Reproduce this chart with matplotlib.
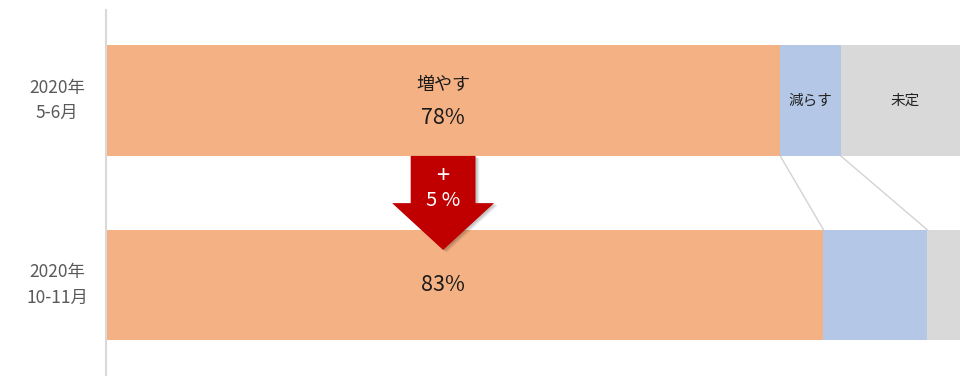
import matplotlib.pyplot as plt
import matplotlib.transforms as mtransforms
from matplotlib.patches import Polygon
import numpy as np

plt.rcParams['font.family'] = ['Noto Sans CJK JP', 'DejaVu Sans']

# 調査時期ごとの回答割合（%）
periods = ['2020年\n5-6月', '2020年\n10-11月']
increase = [78, 83]   # 増やす
decrease = [7, 12]    # 減らす
undecided = [15, 5]   # 未定
seg_names = ['増やす', '減らす', '未定']
diff_sign = '+'
diff_text = '5 %'

colors = ['#F4B183', '#B4C7E7', '#D9D9D9']

fig = plt.figure(figsize=(9.6, 3.76), dpi=100)
ax = fig.add_axes([106 / 960, 0, 1 - 106 / 960, 1])

y = np.arange(len(periods))
bar_h = 0.6
segments = [np.array(increase), np.array(decrease), np.array(undecided)]
left = np.zeros(len(periods))
for vals, c in zip(segments, colors):
    ax.barh(y, vals, left=left, height=bar_h, color=c, edgecolor='none', zorder=2)
    left = left + vals

ax.set_xlim(0, 98.8)
ax.set_ylim(1.493, -0.545)

# 軸まわり
for s in ['top', 'right', 'bottom']:
    ax.spines[s].set_visible(False)
ax.spines['left'].set_color('#D9D9D9')
ax.spines['left'].set_linewidth(1.5)
ax.spines['left'].set_bounds(1.493, -0.49)
ax.set_xticks([])
ax.set_yticks([])

# 期間ラベル（中央揃え）
trans = mtransforms.blended_transform_factory(fig.transFigure, ax.transData)
for yi, lab in zip(y, periods):
    ax.text(57 / 960, yi, lab, transform=trans, ha='center', va='center',
            fontsize=12.5, color='#595959', linespacing=1.55)

# 棒の中のラベル（増やすの数値は同じ位置にそろえる）
lx = increase[0] / 2
ax.text(lx, y[0] - 0.085, seg_names[0], ha='center', va='center',
        fontsize=13, color='#1a1a1a', zorder=4)
ax.text(lx, y[0] + 0.095, f'{increase[0]}%', ha='center', va='center',
        fontsize=15.5, color='#1a1a1a', zorder=4)
ax.text(lx, y[1], f'{increase[1]}%', ha='center', va='center',
        fontsize=15.5, color='#1a1a1a', zorder=4)
ax.text(increase[0] + decrease[0] / 2, y[0], seg_names[1], ha='center', va='center',
        fontsize=10.5, color='#222222', zorder=4)
ax.text(increase[0] + decrease[0] + undecided[0] / 2, y[0], seg_names[2],
        ha='center', va='center', fontsize=10.5, color='#222222', zorder=4)

# 区切りをつなぐ線
cum0 = np.cumsum([increase[0], decrease[0]])
cum1 = np.cumsum([increase[1], decrease[1]])
for a, b in zip(cum0, cum1):
    ax.plot([a, b], [y[0] + bar_h / 2, y[1] - bar_h / 2], color='#D3D3D3',
            lw=1.0, zorder=1)

# 増加幅を示す矢印
cx = increase[0] / 2
shaft_w, head_w = 3.75, 5.9
top = y[0] + bar_h / 2
head_base = 0.556
tip = 0.81
arrow_pts = [(cx - shaft_w, top), (cx + shaft_w, top), (cx + shaft_w, head_base),
             (cx + head_w, head_base), (cx, tip), (cx - head_w, head_base),
             (cx - shaft_w, head_base)]
for k, a in enumerate([0.06, 0.08, 0.10]):
    off = 0.45 - 0.12 * k
    ax.add_patch(Polygon([(px + off, py + off * 0.03) for px, py in arrow_pts],
                         closed=True, facecolor='#000000', alpha=a,
                         edgecolor='none', zorder=4))
ax.add_patch(Polygon(arrow_pts, closed=True, facecolor='#C00000',
                     edgecolor='none', zorder=5))
ax.text(cx, 0.41, diff_sign, ha='center', va='center', fontsize=17,
        color='white', zorder=6)
ax.text(cx, 0.54, diff_text, ha='center', va='center', fontsize=14.5,
        color='white', zorder=6)

fig.savefig('out.png', dpi=100)
